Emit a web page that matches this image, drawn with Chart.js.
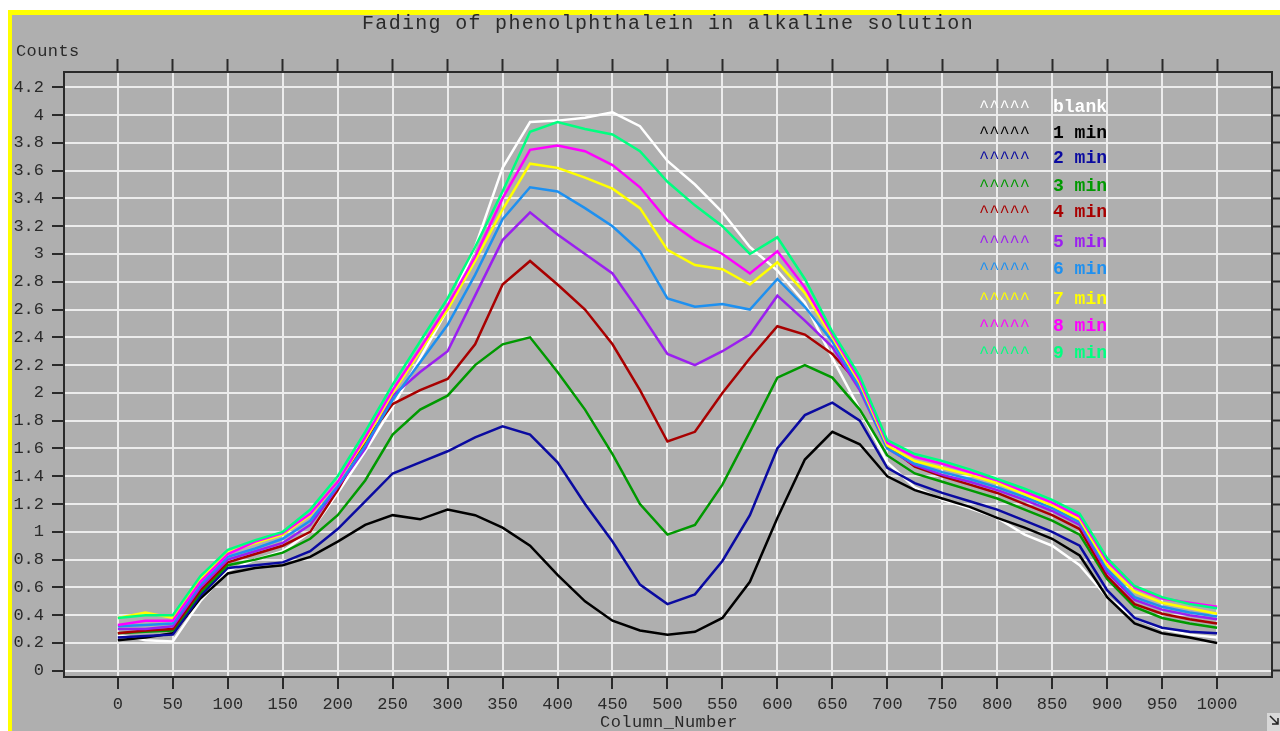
<!DOCTYPE html>
<html>
<head>
<meta charset="utf-8">
<title>Fading of phenolphthalein in alkaline solution</title>
<script src="https://cdn.jsdelivr.net/npm/chart.js@4.4.1/dist/chart.umd.min.js"></script>
<style>
  html, body { margin: 0; padding: 0; background: #fff; overflow: hidden; }
  canvas { display: block; }
</style>
</head>
<body>
<canvas id="plot" width="1280" height="731"></canvas>
<script>
const columns = [0, 25, 50, 75, 100, 125, 150, 175, 200, 225, 250, 275, 300, 325, 350, 375, 400, 425, 450, 475,
  500, 525, 550, 575, 600, 625, 650, 675, 700, 725, 750, 775, 800, 825, 850, 875, 900, 925, 950, 975, 1000];

const blank = [0.26, 0.22, 0.21, 0.50, 0.72, 0.80, 0.86, 1.00, 1.28, 1.58, 1.90, 2.25, 2.60, 3.05, 3.62, 3.95, 3.96, 3.98, 4.02, 3.92,
  3.67, 3.50, 3.30, 3.05, 2.88, 2.65, 2.25, 1.88, 1.50, 1.32, 1.23, 1.17, 1.10, 0.98, 0.90, 0.76, 0.53, 0.38, 0.30, 0.26, 0.24];
const min1 = [0.22, 0.24, 0.27, 0.52, 0.70, 0.74, 0.76, 0.82, 0.93, 1.05, 1.12, 1.09, 1.16, 1.12, 1.03, 0.90, 0.69, 0.50, 0.36, 0.29,
  0.26, 0.28, 0.38, 0.64, 1.10, 1.52, 1.72, 1.63, 1.40, 1.30, 1.24, 1.18, 1.10, 1.03, 0.95, 0.83, 0.53, 0.34, 0.27, 0.24, 0.20];
const min2 = [0.24, 0.25, 0.26, 0.54, 0.74, 0.76, 0.78, 0.86, 1.02, 1.22, 1.42, 1.50, 1.58, 1.68, 1.76, 1.70, 1.50, 1.20, 0.93, 0.62,
  0.48, 0.55, 0.79, 1.12, 1.60, 1.84, 1.93, 1.80, 1.46, 1.35, 1.28, 1.22, 1.16, 1.08, 1.00, 0.90, 0.58, 0.38, 0.31, 0.28, 0.27];
const min3 = [0.27, 0.28, 0.29, 0.56, 0.76, 0.80, 0.85, 0.95, 1.12, 1.37, 1.70, 1.88, 1.98, 2.20, 2.35, 2.40, 2.15, 1.88, 1.56, 1.20,
  0.98, 1.05, 1.34, 1.72, 2.11, 2.20, 2.11, 1.88, 1.55, 1.42, 1.36, 1.30, 1.24, 1.16, 1.08, 0.98, 0.66, 0.46, 0.38, 0.34, 0.31];
const min4 = [0.27, 0.29, 0.30, 0.58, 0.78, 0.84, 0.90, 1.00, 1.30, 1.65, 1.92, 2.02, 2.10, 2.35, 2.78, 2.95, 2.78, 2.60, 2.35, 2.02,
  1.65, 1.72, 2.00, 2.25, 2.48, 2.42, 2.28, 2.06, 1.62, 1.47, 1.40, 1.34, 1.28, 1.20, 1.12, 1.02, 0.68, 0.48, 0.41, 0.37, 0.34];
const min5 = [0.30, 0.30, 0.32, 0.60, 0.80, 0.86, 0.92, 1.05, 1.32, 1.60, 1.98, 2.15, 2.30, 2.70, 3.10, 3.30, 3.14, 3.00, 2.86, 2.58,
  2.28, 2.20, 2.30, 2.42, 2.70, 2.52, 2.33, 2.02, 1.60, 1.48, 1.41, 1.36, 1.30, 1.23, 1.15, 1.05, 0.71, 0.51, 0.44, 0.40, 0.37];
const min6 = [0.32, 0.33, 0.34, 0.62, 0.82, 0.88, 0.95, 1.08, 1.33, 1.62, 1.95, 2.22, 2.49, 2.85, 3.25, 3.48, 3.45, 3.33, 3.20, 3.02,
  2.68, 2.62, 2.64, 2.60, 2.82, 2.62, 2.37, 2.04, 1.60, 1.49, 1.43, 1.38, 1.32, 1.25, 1.17, 1.07, 0.73, 0.53, 0.46, 0.42, 0.39];
const min7 = [0.38, 0.42, 0.38, 0.66, 0.85, 0.92, 0.98, 1.12, 1.36, 1.66, 2.00, 2.30, 2.60, 2.95, 3.32, 3.65, 3.62, 3.55, 3.47, 3.33,
  3.03, 2.92, 2.89, 2.78, 2.94, 2.72, 2.40, 2.07, 1.62, 1.51, 1.46, 1.41, 1.35, 1.27, 1.19, 1.09, 0.76, 0.57, 0.49, 0.45, 0.41];
const min8 = [0.33, 0.36, 0.36, 0.64, 0.84, 0.93, 0.99, 1.13, 1.36, 1.68, 2.02, 2.32, 2.63, 2.98, 3.40, 3.75, 3.78, 3.74, 3.64, 3.48,
  3.24, 3.10, 3.00, 2.86, 3.02, 2.76, 2.42, 2.09, 1.64, 1.54, 1.49, 1.43, 1.37, 1.29, 1.21, 1.11, 0.79, 0.60, 0.52, 0.49, 0.46];
const min9 = [0.38, 0.40, 0.40, 0.68, 0.87, 0.94, 1.00, 1.16, 1.40, 1.72, 2.06, 2.37, 2.68, 3.05, 3.45, 3.88, 3.95, 3.90, 3.86, 3.74,
  3.52, 3.35, 3.20, 3.00, 3.12, 2.82, 2.44, 2.12, 1.66, 1.56, 1.51, 1.45, 1.38, 1.31, 1.23, 1.13, 0.81, 0.61, 0.53, 0.48, 0.45];

const seriesNames = ['blank', '1 min', '2 min', '3 min', '4 min', '5 min', '6 min', '7 min', '8 min', '9 min'];
const seriesValues = [blank, min1, min2, min3, min4, min5, min6, min7, min8, min9];
const seriesColors = ['#ffffff', '#000000', '#0a0aa0', '#009900', '#a80000', '#9b1ff0', '#1e90f0', '#ffff00', '#ff00ff', '#00ff80'];

const xTicks = [0, 50, 100, 150, 200, 250, 300, 350, 400, 450, 500, 550, 600, 650, 700, 750, 800, 850, 900, 950, 1000];
const yTicks = [0, 0.2, 0.4, 0.6, 0.8, 1, 1.2, 1.4, 1.6, 1.8, 2, 2.2, 2.4, 2.6, 2.8, 3, 3.2, 3.4, 3.6, 3.8, 4, 4.2];

const W = 1280, H = 731;
const mono = '"Liberation Mono", "DejaVu Sans Mono", monospace';
const ink = '#2a2a2a';
const gridColor = '#ececec';
const legendRowY = [112, 138, 163, 191, 217, 247, 274, 304, 331, 358];

Chart.defaults.font.family = mono;

const useTicks = values => scale => { scale.ticks = values.map(v => ({ value: v })); };
const frame = { display: true, color: ink, width: 2 };

const decor = {
  id: 'decor',
  beforeDraw(chart) {
    const c = chart.ctx;
    c.save();
    c.fillStyle = '#ffffff';
    c.fillRect(0, 0, W, H);
    c.fillStyle = '#ffff00';
    c.fillRect(8, 10, W - 8, H - 10);
    c.fillStyle = '#afafaf';
    c.fillRect(12, 15, W - 12, H - 15);
    c.restore();
  },
  afterDraw(chart) {
    const c = chart.ctx;
    c.save();
    c.fillStyle = ink;
    c.textBaseline = 'middle';

    c.font = '20px ' + mono;
    c.letterSpacing = '1.3px';
    c.textAlign = 'center';
    c.fillText('Fading of phenolphthalein in alkaline solution', 668, 24);

    c.font = '17px ' + mono;
    c.letterSpacing = '0.4px';
    c.textAlign = 'left';
    c.fillText('Counts', 16, 51);
    c.textAlign = 'center';
    c.fillText('Column_Number', 669, 722);

    // legend
    c.letterSpacing = '0px';
    c.textBaseline = 'alphabetic';
    c.textAlign = 'left';
    seriesNames.forEach((name, i) => {
      c.fillStyle = seriesColors[i];
      c.font = '17px ' + mono;
      c.fillText('^^^^^', 979, legendRowY[i]);
      c.font = 'bold 18px ' + mono;
      c.fillText(name, 1053, legendRowY[i]);
    });

    // little resize grip in the corner
    c.fillStyle = '#d8d8d8';
    c.fillRect(1267, 713, 13, 18);
    c.strokeStyle = '#222';
    c.lineWidth = 1.5;
    c.beginPath();
    c.moveTo(1270, 716); c.lineTo(1278, 724);
    c.moveTo(1278, 718); c.lineTo(1278, 724); c.lineTo(1272, 724);
    c.stroke();
    c.restore();
  }
};

new Chart(document.getElementById('plot'), {
  type: 'line',
  data: {
    datasets: seriesNames.map((name, i) => ({
      label: name,
      data: columns.map((col, k) => ({ x: col, y: seriesValues[i][k] })),
      borderColor: seriesColors[i],
      backgroundColor: seriesColors[i],
      borderWidth: 2.5,
      pointRadius: 0,
      tension: 0,
      fill: false,
      order: seriesNames.length - 1 - i
    }))
  },
  options: {
    responsive: false,
    animation: false,
    layout: { padding: 0 },
    plugins: {
      legend: { display: false },
      title: { display: false },
      tooltip: { enabled: false }
    },
    scales: {
      x: {
        type: 'linear', position: 'bottom', min: -49, max: 1050,
        afterBuildTicks: useTicks(xTicks),
        afterFit: s => { s.height = 54; },
        grid: { color: gridColor, lineWidth: 2, tickLength: 12, tickColor: ink, tickWidth: 2 },
        border: frame,
        ticks: { color: ink, font: { size: 17 }, padding: 5, maxRotation: 0, autoSkip: false, callback: v => String(v) }
      },
      x2: {
        type: 'linear', position: 'top', min: -49, max: 1050,
        afterBuildTicks: useTicks(xTicks),
        afterFit: s => { s.height = 72; },
        grid: { drawOnChartArea: false, tickLength: 13, tickColor: ink, tickWidth: 2 },
        border: frame,
        ticks: { display: false }
      },
      y: {
        type: 'linear', position: 'left', min: -0.045, max: 4.31,
        afterBuildTicks: useTicks(yTicks),
        afterFit: s => { s.width = 64; },
        grid: { color: gridColor, lineWidth: 2, tickLength: 12, tickColor: ink, tickWidth: 2 },
        border: frame,
        ticks: { color: ink, font: { size: 17 }, padding: 8, autoSkip: false, callback: v => String(v) }
      },
      y2: {
        type: 'linear', position: 'right', min: -0.045, max: 4.31,
        afterBuildTicks: useTicks(yTicks),
        afterFit: s => { s.width = 8; },
        grid: { drawOnChartArea: false, tickLength: 8, tickColor: ink, tickWidth: 2 },
        border: frame,
        ticks: { display: false }
      }
    }
  },
  plugins: [decor]
});
</script>
</body>
</html>
